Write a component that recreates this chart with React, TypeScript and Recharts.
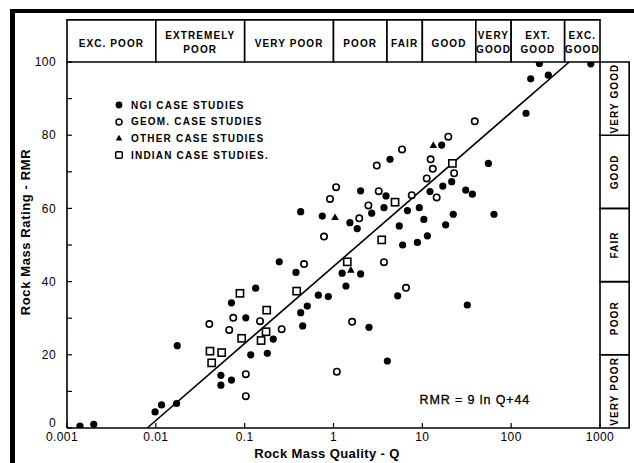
import React from 'react';
import {
  ScatterChart,
  Scatter,
  XAxis,
  YAxis,
  ReferenceArea,
  ReferenceLine,
  ReferenceDot,
  Legend,
} from 'recharts';

const FONT = '"Liberation Sans", Arial, sans-serif';

// ---- data ----
const NGI_Q = [0.0014, 0.002, 0.0098, 0.0116, 0.0171, 0.0174, 0.054, 0.054, 0.071, 0.071, 0.103, 0.117, 0.133, 0.18, 0.21, 0.245, 0.378, 0.427, 0.45, 0.507, 0.675, 0.874, 1.25, 1.38, 2.02, 0.427, 0.748, 1.53, 1.85, 2.02, 2.69, 3.7, 3.9, 4.33, 5.5, 6.0, 6.8, 8.8, 9.25, 10.4, 11.4, 12.2, 16.5, 17.0, 18.3, 21.4, 22.3, 30.8, 36.6, 55.4, 64.1, 147, 2.51, 4.04, 5.28, 32.1, 208, 166, 262, 788];
const NGI_RMR = [0.5, 1, 4.4, 6.3, 6.7, 22.5, 14.4, 11.7, 13.1, 34.2, 30.1, 20.0, 38.2, 20.4, 24.3, 45.4, 42.5, 31.5, 27.9, 33.3, 36.3, 35.9, 42.3, 38.8, 42.1, 59.1, 57.9, 56.1, 54.5, 64.8, 58.7, 60.2, 63.4, 73.4, 55.2, 50.0, 59.4, 50.7, 60.2, 57.0, 52.5, 64.6, 77.3, 66.1, 55.5, 67.3, 58.4, 65.0, 63.9, 72.3, 58.4, 86.0, 27.5, 18.3, 36.1, 33.6, 99.6, 95.4, 96.4, 99.5];

const GEOM_Q = [0.04, 0.0744, 0.067, 0.149, 0.103, 0.103, 0.261, 0.466, 1.09, 1.62, 0.782, 0.913, 1.07, 1.95, 2.47, 3.07, 3.23, 3.7, 5.91, 7.6, 11.2, 12.4, 13.1, 14.5, 19.6, 22.8, 38.9, 6.55];
const GEOM_RMR = [28.4, 30.1, 26.8, 29.2, 14.7, 8.7, 27.0, 44.8, 15.4, 29.0, 52.3, 62.6, 65.8, 57.3, 60.8, 71.7, 64.7, 45.3, 76.1, 63.6, 68.2, 73.4, 70.8, 63.0, 79.6, 69.6, 83.8, 38.3];

const OTHER_Q = [1.04, 13.3, 1.57];
const OTHER_RMR = [57.6, 77.3, 43.2];

const INDIAN_Q = [0.0885, 0.177, 0.0407, 0.0551, 0.0425, 0.0925, 0.174, 0.153, 0.385, 1.43, 3.49, 4.93, 21.8];
const INDIAN_RMR = [36.8, 32.2, 21.0, 20.6, 17.8, 24.5, 26.3, 23.9, 37.4, 45.4, 51.4, 61.7, 72.3];

// regression line RMR = 9 ln Q + 44 (end points)
const LINE_Q = [0.008, 450];
const LINE_RMR = [0, 100];

const X_TICKS = [0.001, 0.01, 0.1, 1, 10, 100, 1000];
const X_TICK_LABELS = ['0.001', '0.01', '0.1', '1', '10', '100', '1000'];
const Y_TICKS = [0, 10, 20, 30, 40, 50, 60, 70, 80, 90, 100];
const Y_TICK_LABELS = ['0', '', '20', '', '40', '', '60', '', '80', '', '100'];

const Q_CLASS_BOUNDS = [0.001, 0.01, 0.1, 1, 4, 10, 40, 100, 400, 1000];
const Q_CLASS_LABELS = [
  ['EXC. POOR'],
  ['EXTREMELY', 'POOR'],
  ['VERY POOR'],
  ['POOR'],
  ['FAIR'],
  ['GOOD'],
  ['VERY', 'GOOD'],
  ['EXT.', 'GOOD'],
  ['EXC.', 'GOOD'],
];
const Q_BAND_RMR = [100, 111.5];

const RMR_CLASS_BOUNDS = [0, 20, 40, 60, 80, 100];
const RMR_CLASS_LABELS = ['VERY POOR', 'POOR', 'FAIR', 'GOOD', 'VERY GOOD'];
const RMR_BAND_Q = [1000, 2130];

const ANNOT_Q = 39;
const ANNOT_RMR = 7.7;
const ANNOT_TEXT = 'RMR = 9 ln Q+44';

const SERIES_NAMES = ['NGI CASE STUDIES', 'GEOM. CASE STUDIES', 'OTHER CASE STUDIES', 'INDIAN CASE STUDIES.'];

const zip = (qs: number[], rs: number[]) => qs.map((q, i) => ({ q, rmr: rs[i] }));
const NGI = zip(NGI_Q, NGI_RMR);
const GEOM = zip(GEOM_Q, GEOM_RMR);
const OTHER = zip(OTHER_Q, OTHER_RMR);
const INDIAN = zip(INDIAN_Q, INDIAN_RMR);

// ---- marker shapes ----
const FilledDot = (p: any) => <circle cx={p.cx} cy={p.cy} r={3.6} fill="#000" />;
const OpenDot = (p: any) => (
  <circle cx={p.cx} cy={p.cy} r={3.2} fill="#fff" stroke="#000" strokeWidth={1.6} />
);
const SquareMark = (p: any) => (
  <rect x={p.cx - 3.6} y={p.cy - 3.6} width={7.2} height={7.2} fill="#fff" stroke="#000" strokeWidth={1.6} />
);
const TriMark = (p: any) => (
  <polygon
    points={`${p.cx},${p.cy - 3.8} ${p.cx + 3.8},${p.cy + 2.8} ${p.cx - 3.8},${p.cy + 2.8}`}
    fill="#000"
  />
);

const ICONS: Record<string, (cx: number, cy: number) => React.ReactNode> = {
  [SERIES_NAMES[0]]: (cx, cy) => <circle cx={cx} cy={cy} r={3.4} fill="#000" />,
  [SERIES_NAMES[1]]: (cx, cy) => <circle cx={cx} cy={cy} r={3} fill="#fff" stroke="#000" strokeWidth={1.5} />,
  [SERIES_NAMES[2]]: (cx, cy) => (
    <polygon points={`${cx},${cy - 3.3} ${cx + 3.3},${cy + 2.6} ${cx - 3.3},${cy + 2.6}`} fill="#000" />
  ),
  [SERIES_NAMES[3]]: (cx, cy) => (
    <rect x={cx - 3.3} y={cy - 3.3} width={6.6} height={6.6} rx={1.2} fill="#fff" stroke="#000" strokeWidth={1.5} />
  ),
};

const textStyle = { fontFamily: FONT, fontWeight: 700, fontSize: 10, letterSpacing: 1.1, fill: '#000' } as const;
const tickStyle = { fontFamily: FONT, fontSize: 12, letterSpacing: 0.4, fill: '#000' } as const;

const topLabel = (lines: string[]) => (p: any) => {
  const vb = p.viewBox || {};
  const cx = vb.x + vb.width / 2;
  const cy = vb.y + vb.height / 2;
  if (lines.length === 1) {
    return (
      <text x={cx} y={cy + 6} textAnchor="middle" style={textStyle}>
        {lines[0]}
      </text>
    );
  }
  return (
    <text textAnchor="middle" style={textStyle}>
      <tspan x={cx} y={cy - 2}>{lines[0]}</tspan>
      <tspan x={cx} y={cy + 12}>{lines[1]}</tspan>
    </text>
  );
};

const sideLabel = (label: string) => (p: any) => {
  const vb = p.viewBox || {};
  const cx = vb.x + vb.width / 2 + 3.5;
  const cy = vb.y + vb.height / 2;
  return (
    <text x={cx} y={cy} textAnchor="middle" transform={`rotate(-90 ${cx} ${cy})`} style={textStyle}>
      {label}
    </text>
  );
};

const XTick = (p: any) => {
  const v = p.payload?.value;
  const label = X_TICK_LABELS[X_TICKS.indexOf(v)] ?? '';
  const shift = v === 0.001 ? -5 : 0;
  return (
    <text x={p.x + shift} y={p.y} dy="0.71em" textAnchor="middle" style={tickStyle}>
      {label}
    </text>
  );
};

const YTick = (p: any) => {
  const v = p.payload?.value;
  const label = Y_TICK_LABELS[Y_TICKS.indexOf(v)] ?? '';
  if (!label) return <g />;
  const shift = v === 0 ? -5 : 0;
  return (
    <text x={p.x} y={p.y + shift} dy="0.35em" textAnchor="end" style={tickStyle}>
      {label}
    </text>
  );
};

const LegendContent = (props: any) => {
  const payload = props.payload || [];
  const items = SERIES_NAMES.filter((n) => payload.some((e: any) => e.value === n));
  return (
    <div style={{ fontFamily: FONT, fontWeight: 700, fontSize: 10, letterSpacing: 1.2, color: '#000' }}>
      {items.map((name) => (
        <div key={name} style={{ display: 'flex', alignItems: 'center', height: 16.6, whiteSpace: 'nowrap' }}>
          <svg width={14} height={12} style={{ marginRight: 5 }}>
            {ICONS[name](7, 6)}
          </svg>
          <span>{name}</span>
        </div>
      ))}
    </div>
  );
};

export default function App() {
  return (
    <div style={{ position: 'absolute', left: 0, top: 0, width: 634, height: 463, background: '#fff', overflow: 'hidden' }}>
      <div
        style={{
          position: 'absolute',
          left: 10,
          top: 9,
          width: 700,
          height: 500,
          borderLeft: '5px solid #000',
          borderTop: '4px solid #000',
        }}
      />
      <div style={{ position: 'absolute', left: 0, top: 0 }}>
        <ScatterChart width={634} height={463} margin={{ top: 62, right: 34, bottom: 0, left: 0 }}>
          <XAxis
            type="number"
            dataKey="q"
            scale="log"
            domain={[0.001, 1000]}
            allowDataOverflow
            ticks={X_TICKS}
            height={35}
            tickSize={-5}
            tickMargin={9.5}
            axisLine={{ stroke: '#000', strokeWidth: 1.6 }}
            tickLine={{ stroke: '#000', strokeWidth: 1.2 }}
            tick={XTick}
            label={(p: any) => (
              <text x={327} y={458} textAnchor="middle" style={{ fontFamily: FONT, fontWeight: 700, fontSize: 13, letterSpacing: 0.4, fill: '#000' }}>
                Rock Mass Quality - Q
              </text>
            )}
          />
          <YAxis
            type="number"
            dataKey="rmr"
            domain={[0, 100]}
            allowDataOverflow
            ticks={Y_TICKS}
            width={67}
            tickSize={-5}
            tickMargin={16}
            axisLine={{ stroke: '#000', strokeWidth: 1.6 }}
            tickLine={{ stroke: '#000', strokeWidth: 1.2 }}
            tick={YTick}
            label={(p: any) => (
              <text
                x={30}
                y={232}
                textAnchor="middle"
                transform="rotate(-90 30 232)"
                style={{ fontFamily: FONT, fontWeight: 700, fontSize: 13, letterSpacing: 0.6, fill: '#000' }}
              >
                Rock Mass Rating - RMR
              </text>
            )}
          />
          <YAxis
            yAxisId="r"
            orientation="right"
            type="number"
            domain={[0, 100]}
            ticks={Y_TICKS}
            width={0}
            tickSize={-4}
            tick={false}
            axisLine={false}
            tickLine={{ stroke: '#000', strokeWidth: 1.2 }}
          />

          {Q_CLASS_LABELS.map((lines, i) => (
            <ReferenceArea
              key={'q' + i}
              x1={Q_CLASS_BOUNDS[i]}
              x2={Q_CLASS_BOUNDS[i + 1]}
              y1={Q_BAND_RMR[0]}
              y2={Q_BAND_RMR[1]}
              ifOverflow="visible"
              fill="#fff"
              fillOpacity={1}
              stroke="#000"
              strokeWidth={1.6}
              label={topLabel(lines)}
            />
          ))}
          {RMR_CLASS_LABELS.map((label, i) => (
            <ReferenceArea
              key={'r' + i}
              x1={RMR_BAND_Q[0]}
              x2={RMR_BAND_Q[1]}
              y1={RMR_CLASS_BOUNDS[i]}
              y2={RMR_CLASS_BOUNDS[i + 1]}
              ifOverflow="visible"
              fill="#fff"
              fillOpacity={1}
              stroke="#000"
              strokeWidth={1.6}
              label={sideLabel(label)}
            />
          ))}

          <ReferenceLine
            segment={[
              { x: LINE_Q[0], y: LINE_RMR[0] },
              { x: LINE_Q[1], y: LINE_RMR[1] },
            ]}
            stroke="#000"
            strokeWidth={1.6}
            ifOverflow="visible"
          />

          <Scatter name={SERIES_NAMES[0]} data={NGI} shape={FilledDot} isAnimationActive={false} />
          <Scatter name={SERIES_NAMES[1]} data={GEOM} shape={OpenDot} isAnimationActive={false} />
          <Scatter name={SERIES_NAMES[2]} data={OTHER} shape={TriMark} isAnimationActive={false} />
          <Scatter name={SERIES_NAMES[3]} data={INDIAN} shape={SquareMark} isAnimationActive={false} />

          <ReferenceDot
            x={ANNOT_Q}
            y={ANNOT_RMR}
            r={0}
            fill="none"
            stroke="none"
            ifOverflow="visible"
            label={(p: any) => {
              const vb = p.viewBox || {};
              const cx = (vb.x ?? 0) + (vb.width ?? 0) / 2;
              const cy = (vb.y ?? 0) + (vb.height ?? 0) / 2;
              return (
                <text x={cx} y={cy + 4.5} textAnchor="middle" style={{ fontFamily: FONT, fontSize: 12.5, letterSpacing: 0.9, fill: '#000', fontWeight: 400, stroke: '#000', strokeWidth: 0.3 }}>
                  {ANNOT_TEXT}
                </text>
              );
            }}
          />

          <Legend
            layout="vertical"
            align="center"
            verticalAlign="middle"
            content={LegendContent}
            wrapperStyle={{ position: 'absolute', left: 112, top: 97, width: 'auto', height: 'auto' }}
          />
        </ScatterChart>
      </div>
    </div>
  );
}
